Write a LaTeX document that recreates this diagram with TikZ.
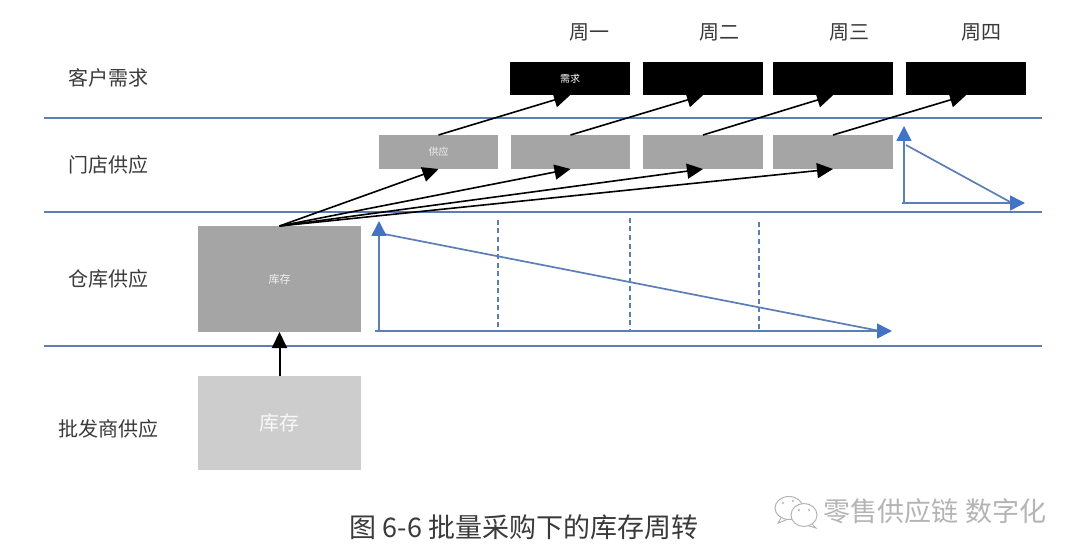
\documentclass[tikz,border=0pt]{standalone}
\usepackage{fontspec}
\setmainfont{Noto Sans CJK SC}
\usetikzlibrary{arrows.meta}
\definecolor{lineblue}{HTML}{5B7FB5}
\definecolor{tipblue}{HTML}{4472C4}
\definecolor{midgrey}{HTML}{A5A5A5}
\definecolor{palegrey}{HTML}{CDCDCD}
\definecolor{labelgrey}{HTML}{3A3A3A}
\definecolor{markgrey}{HTML}{B4B4B4}
\tikzset{
  x=1pt,y=-1pt,
  box/.style={inner sep=0pt,outer sep=0pt,text=white},
  demandbox/.style={box,fill=black,minimum width=120pt,minimum height=33.5pt},
  supplybox/.style={box,fill=midgrey,minimum width=119.5pt,minimum height=34pt},
  flowarrow/.style={draw=black,line width=1.6pt,-{Triangle[length=16pt,width=15pt]}},
  sep/.style={draw=lineblue,line width=1.3pt},
  axis/.style={draw=lineblue,line width=1.5pt,-{Triangle[length=15pt,width=15pt,color=tipblue]}},
  slope/.style={draw=lineblue,line width=1.7pt},
  guide/.style={draw=lineblue,line width=1.2pt,dash pattern=on 5pt off 3.5pt},
  rowlabel/.style={font=\fontsize{20}{24}\selectfont,text=labelgrey,inner sep=0pt},
  weeklabel/.style={font=\fontsize{20}{24}\selectfont,text=labelgrey,inner sep=0pt},
}
\begin{document}
\begin{tikzpicture}
\useasboundingbox[fill=white] (0,0) rectangle (1080,559);
% separators
\coordinate (l1) at (44,118); \coordinate (r1) at (1042,118);
\coordinate (l2) at (44,212); \coordinate (r2) at (1042,212);
\coordinate (l3) at (44,346); \coordinate (r3) at (1042,346);
\draw[sep] (l1) -- (r1);
\draw[sep] (l2) -- (r2);
\draw[sep] (l3) -- (r3);
% row labels
\node[rowlabel] (rowa) at (108,78) {客户需求};
\node[rowlabel] (rowb) at (108,165) {门店供应};
\node[rowlabel] (rowc) at (108,279) {仓库供应};
\node[rowlabel] (rowd) at (108,429) {批发商供应};
% weeks
\node[weeklabel] (wk1) at (589,32) {周一};
\node[weeklabel] (wk2) at (719,32) {周二};
\node[weeklabel] (wk3) at (849,32) {周三};
\node[weeklabel] (wk4) at (981,32) {周四};
% demand
\node[demandbox,font=\fontsize{10}{12}\selectfont] (d1) at (570,78.5) {需求};
\node[demandbox] (d2) at (703,78.5) {};
\node[demandbox] (d3) at (833,78.5) {};
\node[demandbox] (d4) at (966,78.5) {};
% supply
\node[supplybox,font=\fontsize{10}{12}\selectfont,text=white!85!midgrey] (s1) at (438.5,152) {供应};
\node[supplybox] (s2) at (570.5,152) {};
\node[supplybox] (s3) at (703,152) {};
\node[supplybox] (s4) at (833,152) {};
% stock
\node[box,fill=midgrey,minimum width=163pt,minimum height=106pt,font=\fontsize{11}{13}\selectfont,text=white!85!midgrey] (w) at (279.5,279) {库存};
\node[box,fill=palegrey,minimum width=163pt,minimum height=94pt,font=\fontsize{20}{24}\selectfont,text=white!85!palegrey] (h) at (279.5,423) {库存};
% flows
\draw[flowarrow] (s1.north) -- (d1.south);
\draw[flowarrow] (s2.north) -- (d2.south);
\draw[flowarrow] (s3.north) -- (d3.south);
\draw[flowarrow] (s4.north) -- (d4.south);
\draw[flowarrow] (w.north) -- (s1.south);
\draw[flowarrow] (w.north) -- (s2.south);
\draw[flowarrow] (w.north) -- (s3.south);
\draw[flowarrow] (w.north) -- (s4.south);
\draw[flowarrow,line width=2pt] (h.north) -- (w.south);
% big triangle
\coordinate (o1) at (379,331.5);
\coordinate (o1b) at (375,331);
\coordinate (ty1) at (379,221);
\coordinate (tx1) at (892,331);
\coordinate (a1) at (384,234);
\coordinate (b1) at (880,331);
\draw[guide] (498,220) -- (498,329);
\draw[guide] (630,218) -- (630,329);
\draw[guide] (759,222) -- (759,329);
\draw[slope] (a1) -- (b1);
\draw[axis] (o1) -- (ty1);
\draw[axis] (o1b) -- (tx1);
% small triangle
\coordinate (o2) at (904,203.5);
\coordinate (o2b) at (902,203);
\coordinate (ty2) at (904,126);
\coordinate (tx2) at (1025,203);
\coordinate (a2) at (906,145);
\coordinate (b2) at (1012,203);
\draw[slope] (a2) -- (b2);
\draw[axis] (o2) -- (ty2);
\draw[axis] (o2b) -- (tx2);
% caption
\node[inner sep=0pt,text=labelgrey,font=\fontsize{27}{32}\selectfont] (cap) at (524,527) {图 6-6 批量采购下的库存周转};
% watermark
\draw[markgrey,line width=1pt,fill=white] (789,508) ellipse (14pt and 11.5pt);
\draw[markgrey,line width=1pt] (781,518) -- (778,523) -- (786,520);
\draw[markgrey,line width=1pt,fill=white] (804,515) ellipse (13pt and 11.5pt);
\draw[markgrey,line width=1pt] (812,524) -- (816,528) -- (809,526);
\fill[markgrey] (783,503) circle (1.2pt) (793,501) circle (1.2pt) (799,510) circle (1.2pt) (809,510) circle (1.2pt);
\node[inner sep=0pt,text=markgrey,font=\fontsize{27}{32}\selectfont] (mark) at (935,511) {零售供应链 数字化};
\end{tikzpicture}
\end{document}
